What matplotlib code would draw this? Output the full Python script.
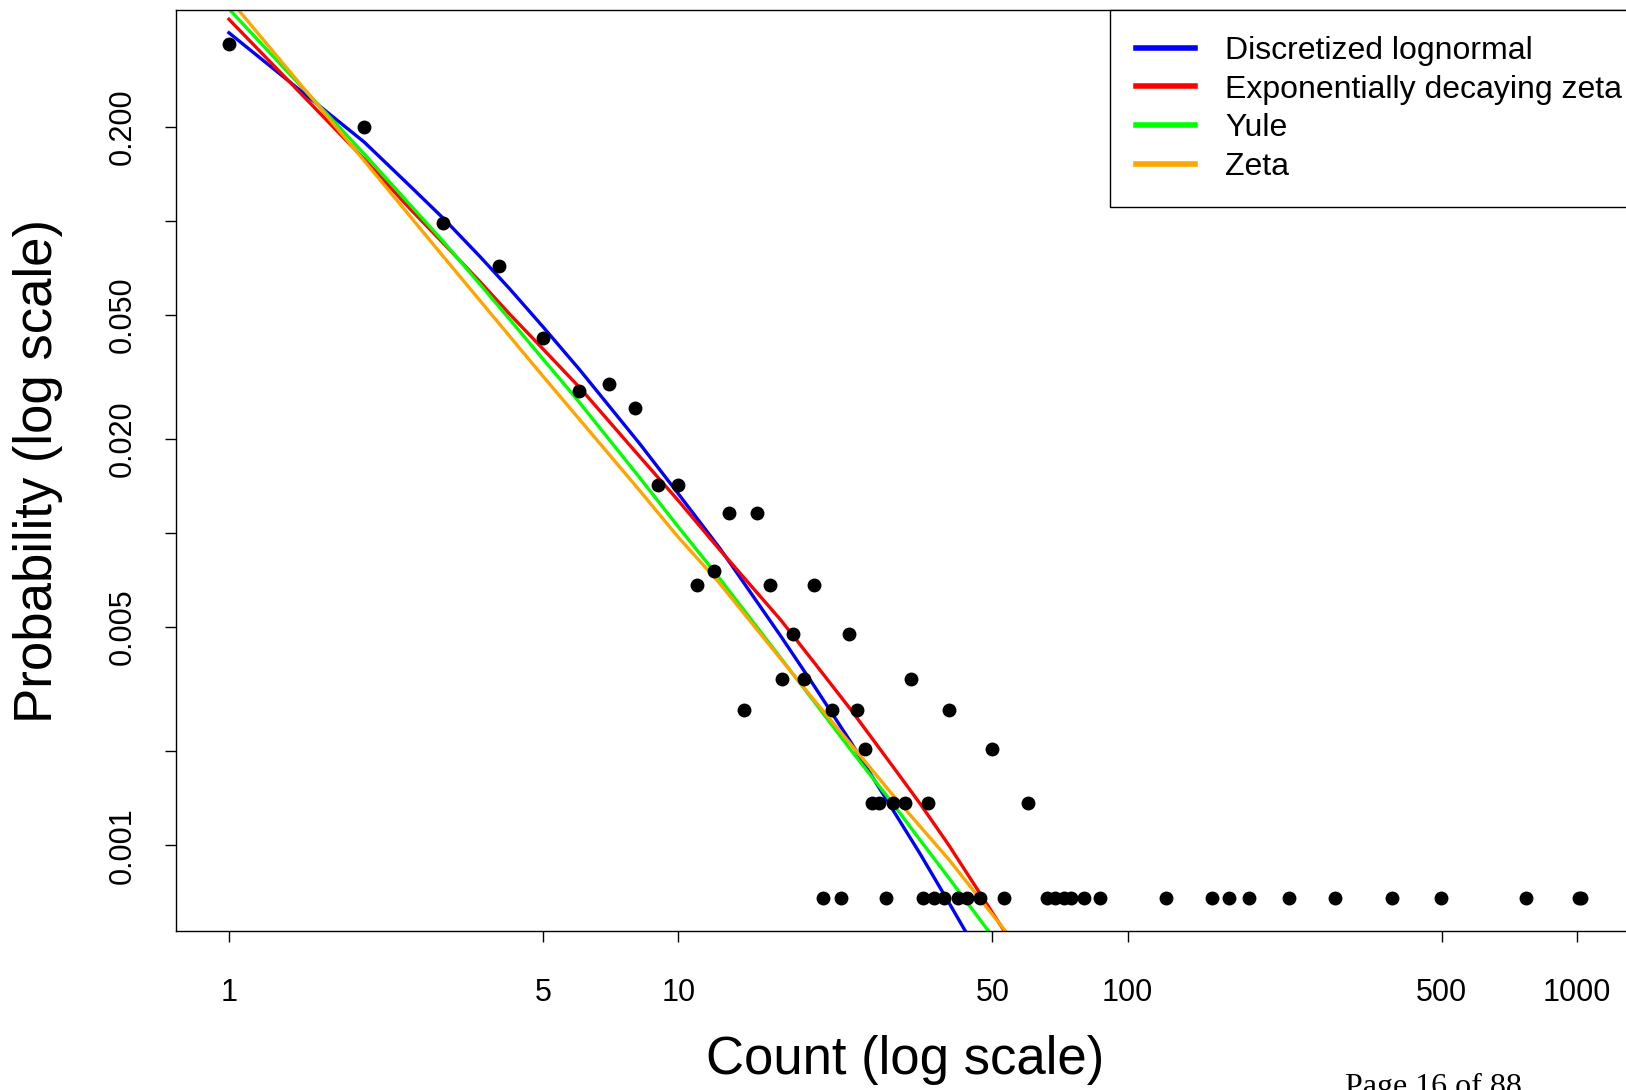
import matplotlib
matplotlib.use("Agg")
import matplotlib.pyplot as plt
from matplotlib.ticker import NullLocator, FixedLocator, FixedFormatter

plt.rcParams["font.family"] = ["Liberation Sans", "DejaVu Sans"]

obs_count = [1, 2, 3, 4, 5, 6, 7, 8, 9, 10, 11, 12, 13, 14, 15, 16, 17, 18, 19, 20,
             22, 24, 25, 26, 27, 28, 30, 32, 33, 36, 40, 50, 60,
             21, 23, 29, 35, 37, 39, 42, 44, 47, 53, 66, 69, 72, 75, 80, 87,
             122, 154, 168, 186, 229, 290, 387, 497, 769, 1010, 1023]
obs_prob = [0.368, 0.200, 0.0984, 0.0717, 0.0422, 0.0285, 0.0300, 0.0252, 0.01423, 0.01423,
            0.00683, 0.00755, 0.01159, 0.00272, 0.01159, 0.00683, 0.00341, 0.00475, 0.00341, 0.00683,
            0.00272, 0.00475, 0.00272, 0.00203, 0.00136, 0.00136, 0.00136, 0.00136, 0.00341, 0.00136,
            0.00272, 0.00203, 0.00136,
            0.000678, 0.000678, 0.000678, 0.000678, 0.000678, 0.000678, 0.000678, 0.000678,
            0.000678, 0.000678, 0.000678, 0.000678, 0.000678, 0.000678, 0.000678, 0.000678,
            0.000678, 0.000678, 0.000678, 0.000678, 0.000678, 0.000678, 0.000678, 0.000678,
            0.000678, 0.000678, 0.000678]

# fitted model curves
lnorm_x = [1, 2, 2.53, 3, 3.62, 4.22, 5, 6.04, 8.2, 10, 12.4, 16.9, 20, 24.2, 30, 34.5, 40, 50]
lnorm_p = [0.401, 0.179, 0.1294, 0.1020, 0.0769, 0.0605, 0.0458, 0.0333, 0.01936, 0.01337,
           0.0089, 0.00468, 0.00326, 0.00214, 0.00130, 0.00094, 0.000655, 0.000376]

expzeta_x = [1, 2, 2.53, 3, 3.62, 4.22, 5, 6.04, 8.2, 10, 12.4, 16.9, 20, 24.2, 30, 34.5, 40, 60]
expzeta_p = [0.443, 0.158, 0.1094, 0.0849, 0.0639, 0.0502, 0.0389, 0.0292, 0.0176, 0.01271,
             0.0088, 0.00527, 0.00387, 0.00272, 0.00179, 0.00136, 0.00100, 0.000405]

yule_x = [1, 2, 2.53, 3, 3.62, 4.22, 5, 5.94, 8.2, 10, 12.2, 16.9, 20, 24.2, 30, 34.5, 40, 55]
yule_p = [0.478, 0.164, 0.1127, 0.0859, 0.0627, 0.0483, 0.0361, 0.0269, 0.01507, 0.01047,
          0.00733, 0.00398, 0.00290, 0.00202, 0.00136, 0.00104, 0.000785, 0.000425]

zeta_x = [1, 2, 3, 5, 8.2, 10, 12.2, 20, 30, 40, 60]
zeta_p = [0.516, 0.156, 0.0769, 0.0318, 0.0137, 0.0097, 0.00706, 0.00293, 0.00145, 0.00090, 0.00043]

x_ticks = [1, 5, 10, 50, 100, 500, 1000]
x_tick_labels = ["1", "5", "10", "50", "100", "500", "1000"]
y_ticks = [0.001, 0.002, 0.005, 0.01, 0.02, 0.05, 0.1, 0.2]
y_tick_labels = ["0.001", "", "0.005", "", "0.020", "0.050", "", "0.200"]


def main():
    fig = plt.figure(figsize=(16.26, 10.9), dpi=100)
    ax = fig.add_axes([0.1082, 0.1459, 0.897, 0.8446])

    ax.plot(lnorm_x, lnorm_p, color="#0000FF", lw=2.4, label="Discretized lognormal")
    ax.plot(expzeta_x, expzeta_p, color="#FF0000", lw=2.4, label="Exponentially decaying zeta")
    ax.plot(yule_x, yule_p, color="#00FF00", lw=2.4, label="Yule")
    ax.plot(zeta_x, zeta_p, color="#FFA500", lw=2.4, label="Zeta")
    ax.plot(obs_count, obs_prob, "o", color="black", ms=10, mew=0, zorder=5)

    ax.set_xscale("log")
    ax.set_yscale("log")
    ax.set_xlim(10 ** -0.118, 10 ** 3.128)
    ax.set_ylim(10 ** -3.275, 10 ** -0.325)

    ax.xaxis.set_major_locator(FixedLocator(x_ticks))
    ax.xaxis.set_major_formatter(FixedFormatter(x_tick_labels))
    ax.xaxis.set_minor_locator(NullLocator())
    ax.yaxis.set_major_locator(FixedLocator(y_ticks))
    ax.yaxis.set_major_formatter(FixedFormatter(y_tick_labels))
    ax.yaxis.set_minor_locator(NullLocator())

    ax.tick_params(axis="both", direction="out", length=8, width=1.0, labelsize=22)
    ax.tick_params(axis="x", pad=26)
    ax.tick_params(axis="y", pad=19.5)
    for lab in ax.get_yticklabels():
        lab.set_rotation(90)
        lab.set_va("center")

    for sp in ax.spines.values():
        sp.set_linewidth(1.0)

    ax.set_xlabel("Count (log scale)", fontsize=38)
    ax.set_ylabel("Probability (log scale)", fontsize=38)
    ax.xaxis.set_label_coords(0.5, -0.140)
    ax.xaxis.label.set_va("center")
    ax.yaxis.set_label_coords(-0.0947, 0.5)
    ax.yaxis.label.set_va("center")

    leg = ax.legend(loc="upper left", bbox_to_anchor=(0.6406, 1.0), fontsize=23,
                    frameon=True, fancybox=False, edgecolor="black", framealpha=1,
                    handlelength=1.85, handletextpad=0.95, labelspacing=0.27,
                    borderpad=0.8, borderaxespad=0)
    leg.get_frame().set_linewidth(1.0)
    for line in leg.get_lines():
        line.set_linewidth(4)

    fig.text(0.8272, -0.0046, "Page 16 of 88", fontsize=23,
             family=["Liberation Serif", "DejaVu Serif"], va="baseline", ha="left")

    fig.savefig("out.png", dpi=100)


if __name__ == "__main__":
    main()
